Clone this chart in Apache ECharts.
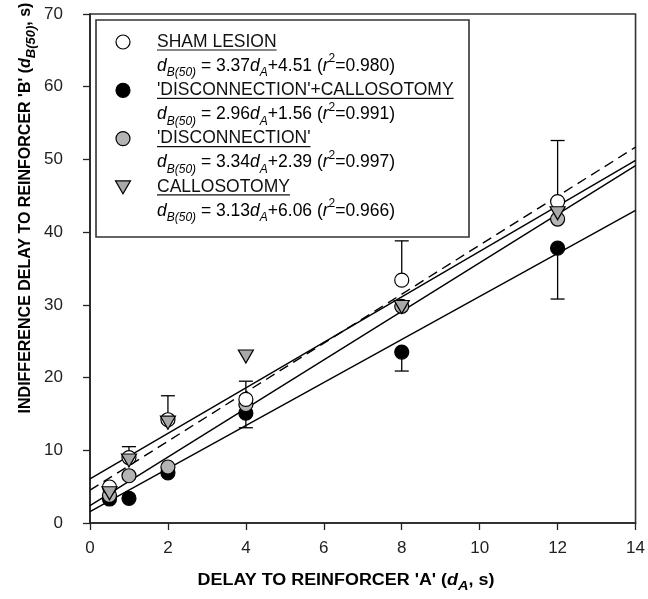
<!DOCTYPE html>
<html>
<head>
<meta charset="utf-8">
<script src="https://cdn.jsdelivr.net/npm/echarts@6/dist/echarts.min.js"></script>
<style>
  html, body { margin: 0; padding: 0; background: #fff; }
  #chart { width: 648px; height: 599px; }
</style>
</head>
<body>
<div id="chart"></div>
<script>
// delays to reinforcer A (s)
const delays = [0.5, 1, 2, 4, 8, 12];
// indifference delays d_B(50) per group
const sham = [4.95, 9.0, 14.2, 17.0, 33.4, 44.2];
const discCallo = [3.3, 3.4, 6.9, 15.1, 23.5, 37.8];
const disc = [3.8, 6.5, 7.7, 16.3, 29.8, 41.8];
const callo = [4.1, 8.6, 13.8, 22.9, 29.7, 42.6];
// error bar ends: sham goes up, disconnection+callosotomy goes down
const shamErrTop = [null, 10.5, 17.5, 19.5, 38.8, 52.6];
const discCalloErrBottom = [null, null, null, 13.1, 20.9, 30.8];
// fitted lines, values at the two ends of the x axis
const fitX = [0, 14];
const shamFit = [4.51, 51.69];
const discCalloFit = [1.56, 43.0];
const discFit = [2.39, 49.15];
const calloFit = [6.06, 49.88];
// legend texts
const groupNames = ['SHAM LESION', "'DISCONNECTION'+CALLOSOTOMY", "'DISCONNECTION'", 'CALLOSOTOMY'];
const slopes = ['3.37', '2.96', '3.34', '3.13'];
const intercepts = ['4.51', '1.56', '2.39', '6.06'];
const rSquared = ['0.980', '0.991', '0.997', '0.966'];
const xTicks = [0, 2, 4, 6, 8, 10, 12, 14];
const yTicks = [0, 10, 20, 30, 40, 50, 60, 70];

const FONT = '"Liberation Sans", Arial, sans-serif';
const chart = echarts.init(document.getElementById('chart'));

function pairs(xs, ys) {
  return xs.map((x, i) => [x, ys[i]]).filter(p => p[1] != null);
}
function errData(ys, ends) {
  return delays.map((x, i) => [x, ys[i], ends[i]]).filter(p => p[2] != null);
}

const markers = [
  { symbol: 'circle', fill: '#ffffff' },
  { symbol: 'circle', fill: '#000000' },
  { symbol: 'circle', fill: '#b4b4b4' },
  { symbol: 'triangle', fill: '#a9a9a9' }
];

function fitLine(ys, dashed) {
  return {
    type: 'line',
    data: pairs(fitX, ys),
    symbol: 'none',
    silent: true,
    z: 2,
    lineStyle: { color: '#000', width: 1.4, type: dashed ? [10, 6] : 'solid' }
  };
}

function errorBars(ys, ends) {
  return {
    type: 'custom',
    data: errData(ys, ends),
    z: 3,
    silent: true,
    renderItem: function (params, api) {
      const a = api.coord([api.value(0), api.value(1)]);
      const b = api.coord([api.value(0), api.value(2)]);
      const st = { stroke: '#000', lineWidth: 1.3 };
      return {
        type: 'group',
        children: [
          { type: 'line', shape: { x1: a[0], y1: a[1], x2: b[0], y2: b[1] }, style: st },
          { type: 'line', shape: { x1: b[0] - 7, y1: b[1], x2: b[0] + 7, y2: b[1] }, style: st }
        ]
      };
    }
  };
}

function scatter(ys, m, z) {
  return {
    type: 'scatter',
    data: pairs(delays, ys),
    symbol: m.symbol,
    symbolSize: m.symbol === 'triangle' ? [15, 13] : 14,
    symbolRotate: m.symbol === 'triangle' ? 180 : 0,
    z: z,
    itemStyle: { color: m.fill, borderColor: '#000', borderWidth: 1.2, opacity: 1 }
  };
}

// legend drawn by hand (names are underlined, equations have sub/superscripts)
const ctx = document.createElement('canvas').getContext('2d');
ctx.font = '17.5px ' + FONT;
const legend = [{
  type: 'rect',
  shape: { x: 96, y: 20, width: 373, height: 217 },
  style: { fill: '#fff', stroke: '#333', lineWidth: 1.6 },
  z: 100
}];
const eqRich = {
  n: { fontSize: 17.5, fontFamily: FONT, color: '#111', lineHeight: 26 },
  i: { fontSize: 17.5, fontFamily: FONT, color: '#111', fontStyle: 'italic', lineHeight: 26 },
  sub: { fontSize: 12, fontFamily: FONT, color: '#111', fontStyle: 'italic', verticalAlign: 'bottom', lineHeight: 13 },
  sup: { fontSize: 12, fontFamily: FONT, color: '#111', verticalAlign: 'top', lineHeight: 13 }
};
groupNames.forEach((name, i) => {
  const yName = 42 + i * 48.3;
  const m = markers[i];
  if (m.symbol === 'circle') {
    legend.push({ type: 'circle', shape: { cx: 123, cy: yName, r: 7 },
      style: { fill: m.fill, stroke: '#000', lineWidth: 1.2 }, z: 101 });
  } else {
    legend.push({ type: 'polygon', shape: { points: [[115.5, yName - 6], [130.5, yName - 6], [123, yName + 7]] },
      style: { fill: m.fill, stroke: '#000', lineWidth: 1.2 }, z: 101 });
  }
  legend.push({ type: 'text', x: 157, y: yName, z: 101,
    style: { text: name, font: '17.5px ' + FONT, fill: '#111', verticalAlign: 'middle' } });
  const w = ctx.measureText(name).width;
  legend.push({ type: 'line', shape: { x1: 157, y1: yName + 8, x2: 157 + w, y2: yName + 8 },
    style: { stroke: '#111', lineWidth: 1.2 }, z: 101 });
  legend.push({ type: 'text', x: 157, y: yName + 24, z: 101,
    style: {
      text: '{i|d}{sub|B(50)}{n| = ' + slopes[i] + '}{i|d}{sub|A}{n|+' + intercepts[i] + ' (}{i|r}{sup|2}{n|=' + rSquared[i] + ')}',
      verticalAlign: 'middle',
      rich: eqRich
    } });
});

const titleRich = {
  b: { fontSize: 16, fontWeight: 'bold', fontFamily: FONT, color: '#111', lineHeight: 24 },
  bi: { fontSize: 16, fontWeight: 'bold', fontStyle: 'italic', fontFamily: FONT, color: '#111', lineHeight: 24 },
  sub: { fontSize: 13, fontWeight: 'bold', fontStyle: 'italic', fontFamily: FONT, color: '#111', verticalAlign: 'bottom', lineHeight: 15 }
};
const titles = [
  { type: 'text', x: 26, y: 208, rotation: Math.PI / 2, z: 50,
    style: { text: "{b|INDIFFERENCE DELAY TO REINFORCER 'B' (}{bi|d}{sub|B(50)}{b|, s)}", align: 'center', verticalAlign: 'middle', rich: titleRich } },
  { type: 'text', x: 346, y: 581, z: 50, scaleX: 1.12,
    style: { text: "{b|DELAY TO REINFORCER 'A' (}{bi|d}{sub|A}{b|, s)}", align: 'center', verticalAlign: 'middle', rich: titleRich } }
];

const option = {
  animation: false,
  backgroundColor: '#fff',
  grid: { left: 90, right: 11, top: 14, bottom: 76, show: true, borderColor: '#333', borderWidth: 1.6, backgroundColor: 'transparent' },
  xAxis: {
    type: 'value', min: xTicks[0], max: xTicks[xTicks.length - 1], interval: 2,
    axisLine: { show: true, lineStyle: { color: '#222', width: 1.6 } },
    axisTick: { show: true, length: 7, lineStyle: { color: '#222', width: 1.3 } },
    axisLabel: { fontSize: 17, fontFamily: FONT, color: '#222', margin: 17 },
    splitLine: { show: false }
  },
  yAxis: {
    type: 'value', min: yTicks[0], max: yTicks[yTicks.length - 1], interval: 10,
    axisLine: { show: true, lineStyle: { color: '#222', width: 1.6 } },
    axisTick: { show: true, length: 7, lineStyle: { color: '#222', width: 1.3 } },
    axisLabel: { fontSize: 17, fontFamily: FONT, color: '#222', margin: 27 },
    splitLine: { show: false }
  },
  graphic: legend.concat(titles),
  series: [
    fitLine(shamFit, true),
    fitLine(discCalloFit, false),
    fitLine(discFit, false),
    fitLine(calloFit, false),
    errorBars(sham, shamErrTop),
    errorBars(discCallo, discCalloErrBottom),
    scatter(discCallo, markers[1], 10),
    scatter(disc, markers[2], 11),
    scatter(sham, markers[0], 12),
    scatter(callo, markers[3], 13)
  ]
};
chart.setOption(option);
</script>
</body>
</html>
